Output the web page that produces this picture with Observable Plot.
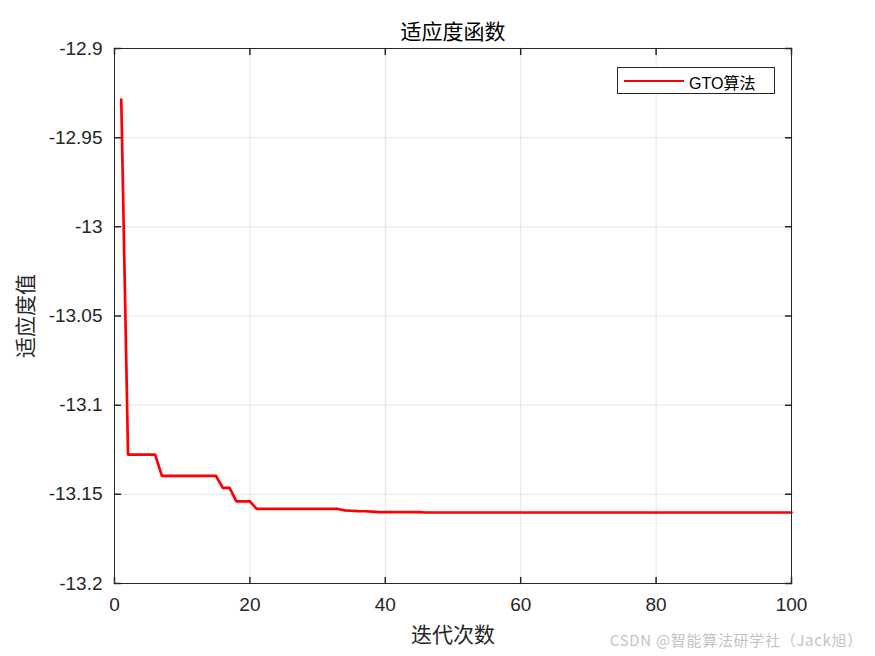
<!DOCTYPE html>
<html>
<head>
<meta charset="utf-8">
<script src="https://cdn.jsdelivr.net/npm/d3@7"></script>
<script src="https://cdn.jsdelivr.net/npm/@observablehq/plot@0.6"></script>
<style>
  html, body { margin: 0; padding: 0; background: #fff; }
  #wrap { position: relative; width: 875px; height: 656px; overflow: hidden; }
  #legend { position: absolute; left: 617px; top: 67px; width: 158px; height: 27px;
    border: 1px solid #262626; background: #fff; box-sizing: border-box; }
  #legend .ln { position: absolute; left: 6px; top: 11.5px; width: 60px; height: 0; border-top: 2.7px solid #ff0000; }
  #legend .tx { position: absolute; left: 71px; top: 2px; font: 16px "Liberation Sans", "Noto Sans CJK SC", sans-serif; color: #000; white-space: nowrap; }
  #wm { position: absolute; right: 12px; top: 629px; font: 15px "Noto Sans CJK SC", sans-serif; letter-spacing: 0.7px; color: #c4c4c4; white-space: nowrap; }
</style>
</head>
<body>
<div id="wrap">
  <div id="chart"></div>
  <div id="legend"><div class="ln"></div><div class="tx">GTO算法</div></div>
  <div id="wm">CSDN @智能算法研学社（Jack旭）</div>
</div>
<script>
// ---- data ----
const fitness = [
  -12.9286,
  -13.1277, -13.1277, -13.1277, -13.1277, -13.1277,
  -13.1397, -13.1397, -13.1397, -13.1397, -13.1397, -13.1397, -13.1397, -13.1397, -13.1397,
  -13.1464, -13.1464,
  -13.1539, -13.1539, -13.1539,
  -13.1582, -13.1582, -13.1582, -13.1582, -13.1582, -13.1582, -13.1582, -13.1582, -13.1582, -13.1582, -13.1582, -13.1582, -13.1582,
  -13.1590, -13.1592, -13.1594, -13.1595, -13.1597,
  -13.1600, -13.1600, -13.1600, -13.1600, -13.1600, -13.1600, -13.1600,
  -13.1602, -13.1602, -13.1602, -13.1602, -13.1602, -13.1602, -13.1602, -13.1602, -13.1602, -13.1602,
  -13.1602, -13.1602, -13.1602, -13.1602, -13.1602, -13.1602, -13.1602, -13.1602, -13.1602, -13.1602,
  -13.1602, -13.1602, -13.1602, -13.1602, -13.1602, -13.1602, -13.1602, -13.1602, -13.1602, -13.1602,
  -13.1602, -13.1602, -13.1602, -13.1602, -13.1602, -13.1602, -13.1602, -13.1602, -13.1602, -13.1602,
  -13.1602, -13.1602, -13.1602, -13.1602, -13.1602, -13.1602, -13.1602, -13.1602, -13.1602, -13.1602,
  -13.1602, -13.1602, -13.1602, -13.1602, -13.1602
];
const xTicks = [0, 20, 40, 60, 80, 100];
const yTicks = [-13.2, -13.15, -13.1, -13.05, -13, -12.95, -12.9];
const yTickLabels = ["-13.2", "-13.15", "-13.1", "-13.05", "-13", "-12.95", "-12.9"];
const xDomain = [0, 100];
const yDomain = [-13.2, -12.9];
const titleText = "适应度函数";
const xLabel = "迭代次数";
const yLabel = "适应度值";

const data = fitness.map((v, i) => ({iter: i + 1, value: v}));
const cjk = "'Noto Sans CJK SC', sans-serif";
const axisColor = "#262626";
const tickShape = {draw(context, l) { context.moveTo(0, 0); context.lineTo(0, -l); }};

const chart = Plot.plot({
  width: 875,
  height: 656,
  marginLeft: 114,
  marginRight: 84,
  marginTop: 48,
  marginBottom: 73,
  style: {fontFamily: "'Liberation Sans', Arial, sans-serif", fontSize: "19px", color: axisColor, background: "#fff"},
  x: {domain: xDomain},
  y: {domain: yDomain},
  marks: [
    Plot.gridX(xTicks, {stroke: axisColor, strokeOpacity: 0.12}),
    Plot.gridY(yTicks, {stroke: axisColor, strokeOpacity: 0.12}),
    Plot.line(data, {x: "iter", y: "value", stroke: "#ff0000", strokeWidth: 2.7}),
    Plot.frame({stroke: axisColor}),
    // inward ticks
    Plot.vector(xTicks, {x: d => d, y: () => yDomain[0], length: 6, rotate: 0, anchor: "start", shape: tickShape, stroke: axisColor}),
    Plot.vector(xTicks, {x: d => d, y: () => yDomain[1], length: 6, rotate: 180, anchor: "start", shape: tickShape, stroke: axisColor}),
    Plot.vector(yTicks, {x: () => xDomain[0], y: d => d, length: 6, rotate: 90, anchor: "start", shape: tickShape, stroke: axisColor}),
    Plot.vector(yTicks, {x: () => xDomain[1], y: d => d, length: 6, rotate: -90, anchor: "start", shape: tickShape, stroke: axisColor}),
    Plot.axisX(xTicks, {tickSize: 0, tickPadding: 14, label: null, fontSize: 19, fill: axisColor}),
    Plot.axisY(yTicks, {tickSize: 0, tickPadding: 12, label: null, fontSize: 19, fill: axisColor,
      tickFormat: d => yTickLabels[yTicks.indexOf(d)]}),
    Plot.text([titleText], {text: d => d, frameAnchor: "top", lineAnchor: "middle", dy: -16, fontSize: 21, fontFamily: cjk, fill: "#000"}),
    Plot.text([xLabel], {text: d => d, frameAnchor: "bottom", lineAnchor: "middle", dy: 52, fontSize: 21, fontFamily: cjk, fill: axisColor}),
    Plot.text([yLabel], {text: d => d, frameAnchor: "left", lineAnchor: "middle", textAnchor: "middle", dx: -88, rotate: -90, fontSize: 21, fontFamily: cjk, fill: axisColor})
  ]
});
document.getElementById("chart").appendChild(chart);
</script>
</body>
</html>
